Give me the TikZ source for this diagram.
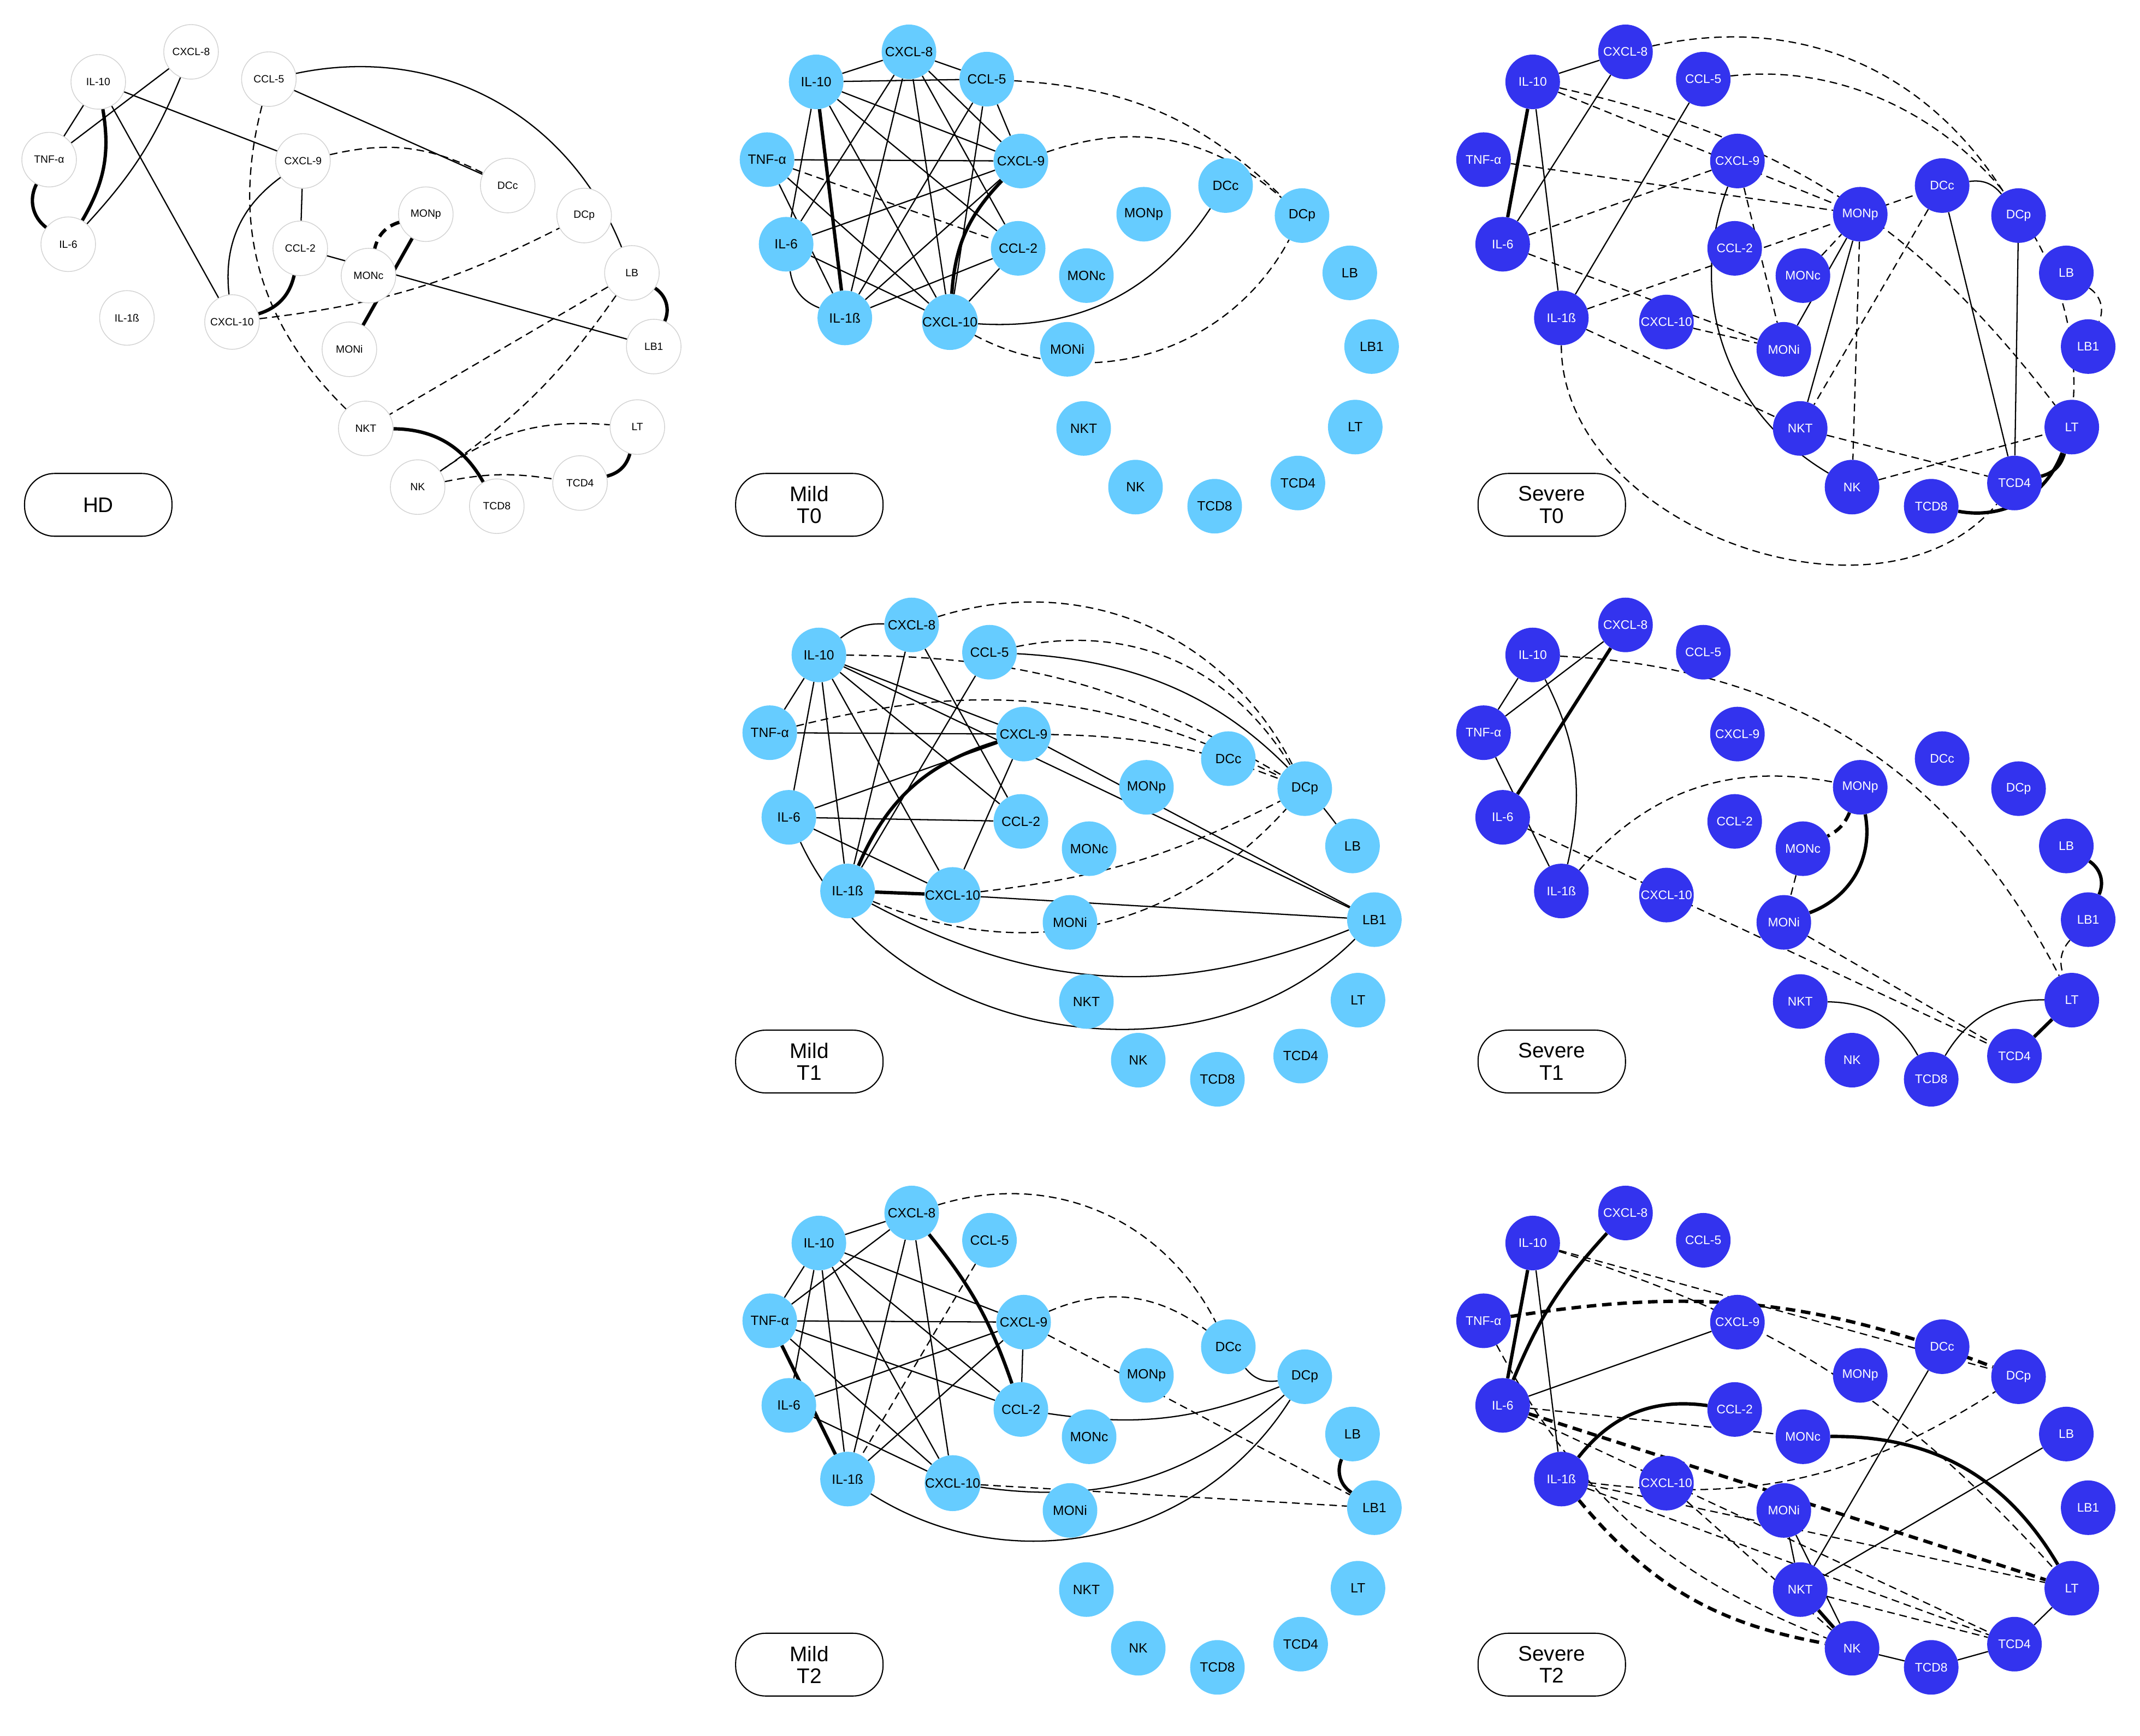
\documentclass[tikz,border=0pt]{standalone}
\usepackage{fontspec}
\setmainfont{Liberation Sans}
\usetikzlibrary{backgrounds}
\definecolor{mildc}{RGB}{102,204,255}
\definecolor{sevc}{RGB}{51,51,238}
\tikzset{
 hd/.style={circle,draw=gray!35,line width=0.8pt,fill=white,minimum size=2cm,inner sep=0pt,font=\fontsize{11}{11}\selectfont},
 mild/.style={circle,fill=mildc,minimum size=2cm,inner sep=0pt,font=\fontsize{14}{14}\selectfont},
 sev/.style={circle,fill=sevc,text=white,minimum size=2cm,inner sep=0pt,font=\fontsize{13}{13}\selectfont},
 lab/.style={draw,line width=1.2pt,rounded corners=1.1cm,minimum width=5.4cm,minimum height=2.3cm,align=center,font=\fontsize{22}{23}\selectfont},
 e/.style={line width=1.3pt},
 d/.style={line width=1.3pt,dash pattern=on 8pt off 5pt},
 t/.style={line width=3.5pt},
 td/.style={line width=3.5pt,dash pattern=on 10pt off 6pt},
}
\newcommand\panel[4]{%
 \foreach \n/\x/\y/\lab in {IL10/72/60/IL-10,CXCL8/140/38/CXCL-8,CCL5/197/58/CCL-5,TNF/36/117/TNF-α,CXCL9/222/118/CXCL-9,DCc/372/136/DCc,MONp/312/157/MONp,DCp/428/158/DCp,IL6/50/179/IL-6,CCL2/220/182/CCL-2,MONc/270/202/MONc,LB/463/200/LB,IL1b/93/233/IL-1ß,CXCL10/170/236/CXCL-10,MONi/256/256/MONi,LB1/479/254/LB1,NKT/268/314/NKT,LT/467/313/LT,NK/306/357/NK,TCD8/364/371/TCD8,TCD4/425/354/TCD4}
 {\node[#4] (#1\n) at (\x+#2,\y+#3) {\lab};}}
\begin{document}
\begin{tikzpicture}[x=0.05cm,y=-0.05cm]
\useasboundingbox (0,0) rectangle (1568,1272);
\panel{h}{0}{0}{hd}
\panel{ma}{526}{0}{mild}
\panel{sa}{1051}{0}{sev}
\panel{mb}{528}{420}{mild}
\panel{sb}{1051}{420}{sev}
\panel{mc}{528}{851}{mild}
\panel{sc}{1051}{851}{sev}
\node[lab] (lh) at (72,370) {HD};
\node[lab] (lma) at (593,370) {Mild\\T0};
\node[lab] (lsa) at (1137,370) {Severe\\T0};
\node[lab] (lmb) at (593,778) {Mild\\T1};
\node[lab] (lsb) at (1137,778) {Severe\\T1};
\node[lab] (lmc) at (593,1220) {Mild\\T2};
\node[lab] (lsc) at (1137,1220) {Severe\\T2};
\begin{scope}[on background layer]
% HD
\foreach \a/\b in {IL10/TNF,IL10/CXCL9,IL10/CXCL10,CXCL8/TNF,CCL5/DCc,CXCL9/CCL2,CCL2/LB1}\draw[e](h\a)--(h\b);
\draw[e](hCXCL8) to[bend left=10] (hIL6);
\draw[t](hIL10) to[bend left=20] (hIL6);
\draw[t](hIL6) to[bend left=40] (hTNF);
\draw[e](hCCL5) to[bend left=40] (hLB);
\draw[d](hCCL5) to[bend right=30] (hNKT);
\draw[d](hCXCL9) to[bend left=20] (hDCc);
\draw[e](hCXCL9) to[bend right=30] (hCXCL10);
\draw[t](hCCL2) to[bend left=30] (hCXCL10);
\draw[d](hCXCL10) to[bend right=10] (hDCp);
\draw[t](hMONp)--(hMONi);
\draw[td](hMONp) to[bend right=30] (hMONc);
\draw[t](hLB) to[bend left=40] (hLB1);
\draw[d](hLB)--(hNKT);
\draw[d](hLB) to[bend left=10] (hNK);
\draw[d](hNK) to[bend left=20] (hLT);
\draw[d](hNK) to[bend left=10] (hTCD4);
\draw[t](hNKT) to[bend left=30] (hTCD8);
\draw[t](hTCD4) to[bend right=30] (hLT);
% Mild T0
\foreach \a/\b in {IL10/CXCL8,IL10/CXCL9,IL10/CCL2,IL10/CXCL10,IL10/IL6,CXCL8/IL6,CXCL8/IL1b,CXCL8/CXCL10,CXCL8/CCL2,CXCL8/CXCL9,CCL5/CXCL9,CCL5/IL1b,CCL5/CXCL10,TNF/CXCL9,TNF/CXCL10,TNF/IL1b,IL6/CXCL9,IL6/CXCL10,IL1b/CXCL9,CCL2/CXCL10,CCL2/IL1b,IL10/CCL5,CXCL8/CCL5}\draw[e](ma\a)--(ma\b);
\draw[t](maIL10)--(maIL1b);
\draw[t](maCXCL9) to[bend right=20] (maCXCL10);
\draw[d](maTNF)--(maCCL2);
\draw[d](maCCL5) to[bend left=20] (maDCp);
\draw[d](maCXCL9) to[bend left=30] (maDCp);
\draw[d](maCXCL10) to[bend right=45] (maDCp);
\draw[e](maCXCL10) to[bend right=30] (maDCc);
\draw[e](maIL6) to[bend right=30] (maIL1b);
% Severe T0
\foreach \a/\b in {IL10/CXCL8,IL10/IL1b,CCL5/IL1b,MONp/MONi,MONp/NKT,DCc/TCD4,DCp/TCD4,CXCL8/IL6}\draw[e](sa\a)--(sa\b);
\draw[t](saIL10)--(saIL6);
\draw[e](saDCc) to[bend left=30] (saDCp);
\draw[e](saCXCL9) to[bend right=40] (saNK);
\draw[t](saTCD4) to[bend right=30] (saLT);
\draw[t](saTCD8) to[bend right=40] (saLT);
\foreach \a/\b in {IL10/MONp,TNF/MONp,IL6/MONi,IL1b/NKT,IL1b/DCc,CXCL9/MONi,MONp/NK,DCc/NKT,NKT/TCD4,NK/LT,CXCL10/MONi,MONc/MONp,IL6/CXCL9}\draw[d](sa\a)--(sa\b);
\draw[d](saIL10) to[bend left=20] (saLT);
\draw[d](saCXCL8) to[bend left=35] (saDCp);
\draw[d](saCCL5) to[bend left=50] (saLT);
\draw[d](saLB) to[bend left=40] (saLB1);
\draw[d](saIL1b) to[bend right=70] (saTCD4);
% Mild T1
\foreach \a/\b in {IL10/TNF,IL10/IL6,IL10/IL1b,IL10/CXCL9,IL10/CXCL10,IL10/CCL2,IL10/LB1,CXCL8/IL1b,CXCL8/CCL2,CCL5/IL1b,TNF/CXCL9,IL6/CXCL9,IL6/CXCL10,IL6/CCL2,CXCL9/LB1,CXCL9/CXCL10,CXCL10/LB1}\draw[e](mb\a)--(mb\b);
\draw[e](mbIL10) to[bend left=20] (mbCXCL8);
\draw[e](mbCCL5) to[bend left=25] (mbLB);
\draw[e](mbIL6) to[bend right=55] (mbLB1);
\draw[e](mbIL1b) to[bend right=25] (mbLB1);
\draw[t](mbIL1b) to[bend left=25] (mbCXCL9);
\draw[t](mbIL1b)--(mbCXCL10);
\draw[d](mbIL10) to[bend left=15] (mbDCp);
\draw[d](mbCXCL8) to[bend left=40] (mbDCp);
\draw[d](mbCCL5) to[bend left=35] (mbDCp);
\draw[d](mbTNF) to[bend left=20] (mbDCp);
\draw[d](mbIL1b) to[bend right=35] (mbDCp);
\draw[d](mbCXCL9) to[bend left=10] (mbDCp);
\draw[d](mbCXCL10) to[bend right=10] (mbDCp);
% Severe T1
\foreach \a/\b in {IL10/TNF,CXCL8/TNF,TNF/IL1b}\draw[e](sb\a)--(sb\b);
\draw[e](sbIL10) to[bend left=20] (sbIL1b);
\draw[t](sbCXCL8)--(sbIL6);
\draw[d](sbIL10) to[bend left=30] (sbLT);
\draw[d](sbIL6)--(sbTCD4);
\draw[d](sbIL1b) to[bend left=30] (sbMONp);
\draw[t](sbMONp) to[bend left=40] (sbMONi);
\draw[td](sbMONp) to[bend left=20] (sbMONc);
\draw[d](sbMONc)--(sbMONi);
\draw[t](sbLB) to[bend left=40] (sbLB1);
\draw[d](sbLB1) to[bend right=30] (sbLT);
\draw[e](sbNKT) to[bend left=30] (sbTCD8);
\draw[e](sbTCD8) to[bend left=30] (sbLT);
\draw[t](sbTCD4)--(sbLT);
\draw[d](sbMONi)--(sbTCD4);
% Mild T2
\foreach \a/\b in {IL10/CXCL8,IL10/TNF,IL10/IL6,IL10/IL1b,IL10/CXCL9,IL10/CCL2,IL10/CXCL10,CXCL8/TNF,CXCL8/IL1b,CXCL8/CXCL10,TNF/CXCL9,TNF/CCL2,TNF/CXCL10,IL6/CXCL9,IL6/CXCL10,IL1b/CXCL9,CXCL9/CCL2}\draw[e](mc\a)--(mc\b);
\draw[t](mcCXCL8) to[bend left=10] (mcCCL2);
\draw[t](mcTNF)--(mcIL1b);
\draw[d](mcCCL5)--(mcIL1b);
\draw[d](mcCXCL8) to[bend left=40] (mcDCc);
\draw[d](mcCXCL9) to[bend left=30] (mcDCc);
\draw[d](mcCXCL9)--(mcLB1);
\draw[d](mcCXCL10)--(mcLB1);
\draw[e](mcIL1b) to[bend right=45] (mcDCp);
\draw[e](mcCXCL10) to[bend right=25] (mcDCp);
\draw[e](mcCCL2) to[bend right=15] (mcDCp);
\draw[e](mcDCc) to[bend right=30] (mcDCp);
\draw[t](mcLB) to[bend right=40] (mcLB1);
% Severe T2
\foreach \a/\b in {IL10/IL1b,IL6/CXCL9,NKT/LB,NKT/DCc,NK/TCD8,TCD8/TCD4,TCD4/LT,NKT/MONi,NK/MONi}\draw[e](sc\a)--(sc\b);
\draw[t](scIL10)--(scIL6);
\draw[t](scCXCL8) to[bend right=10] (scIL6);
\draw[t](scNKT)--(scNK);
\draw[t](scIL1b) to[bend left=30] (scCCL2);
\draw[t](scMONc) to[bend left=30] (scLT);
\draw[td](scTNF) to[bend left=15] (scDCp);
\draw[td](scIL6)--(scLT);
\draw[td](scIL1b) to[bend right=20] (scNK);
\foreach \a/\b in {IL10/DCp,IL6/MONc,IL6/TCD4,IL1b/TCD4,IL1b/LT,CXCL10/NK,NKT/TCD4}\draw[d](sc\a)--(sc\b);
\draw[d](scIL10) to[bend left=15] (scLT);
\draw[d](scTNF) to[bend right=20] (scNK);
\draw[d](scIL1b) to[bend right=20] (scDCp);
\end{scope}
\end{tikzpicture}
\end{document}
